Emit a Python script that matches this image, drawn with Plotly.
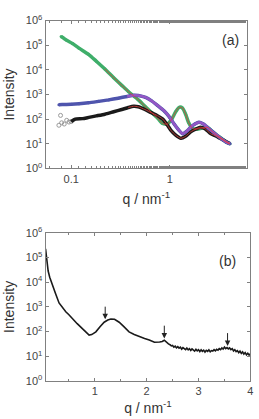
import plotly.graph_objects as go

# ---------- panel (a): log q vs log I ----------
q_green = [0.079, 0.09, 0.103, 0.12, 0.151, 0.18, 0.22, 0.27, 0.326, 0.38, 0.44, 0.5, 0.56, 0.65, 0.75,
           0.85, 0.95, 1.05, 1.15, 1.25, 1.35, 1.45, 1.56, 1.7, 1.9, 2.1, 2.4, 2.7, 3.0, 3.4, 3.8, 4.1]
logI_green = [5.35, 5.2, 5.07, 4.88, 4.62, 4.35, 4.03, 3.68, 3.37, 3.12, 2.91, 2.72, 2.52, 2.28, 2.05,
              1.82, 1.8, 2.0, 2.3, 2.48, 2.45, 2.2, 1.85, 1.62, 1.6, 1.63, 1.67, 1.5, 1.35, 1.2, 1.05, 1.0]

q_black = [0.075, 0.078, 0.08, 0.085, 0.09, 0.095, 0.1, 0.11, 0.13, 0.151, 0.18, 0.22, 0.27, 0.326, 0.38,
           0.43, 0.48, 0.56, 0.65, 0.75, 0.85, 0.95, 1.03, 1.15, 1.3, 1.45, 1.63, 1.85, 2.05, 2.3, 2.6,
           3.0, 3.5, 4.1]
logI_black = [1.75, 2.15, 1.85, 1.8, 1.95, 1.88, 1.9, 2.0, 2.02, 2.07, 2.13, 2.2, 2.3, 2.39, 2.47,
              2.52, 2.5, 2.39, 2.26, 2.14, 2.0, 1.75, 1.54, 1.35, 1.22, 1.3, 1.48, 1.6, 1.67, 1.6, 1.41,
              1.3, 1.15, 1.0]

q_blue = [0.075, 0.081, 0.1, 0.12, 0.15, 0.19, 0.24, 0.3, 0.37, 0.44, 0.48, 0.57, 0.65, 0.75, 0.88,
          1.0, 1.11, 1.22, 1.35, 1.48, 1.63, 1.8, 1.98, 2.2, 2.5, 2.9, 3.3, 3.8, 4.1]
logI_blue = [2.58, 2.59, 2.6, 2.62, 2.66, 2.72, 2.78, 2.85, 2.92, 2.97, 2.96, 2.88, 2.75, 2.56, 2.33,
             2.07, 1.8, 1.58, 1.41, 1.5, 1.67, 1.8, 1.87, 1.8, 1.61, 1.4, 1.22, 1.05, 1.0]

xticks_a = [0.1, 1]
xtick_text_a = ["0.1", "1"]
yticks = [1, 10, 100, 1000, 1e4, 1e5, 1e6]
ytick_text = ["10<sup>0</sup>", "10<sup>1</sup>", "10<sup>2</sup>", "10<sup>3</sup>",
              "10<sup>4</sup>", "10<sup>5</sup>", "10<sup>6</sup>"]

# ---------- panel (b): linear q vs log I ----------
q_b = [0.05, 0.06, 0.08, 0.1, 0.13, 0.18, 0.24, 0.31, 0.38, 0.44, 0.5, 0.57, 0.66, 0.76, 0.84, 0.89,
       0.94, 1.02, 1.1, 1.18, 1.25, 1.31, 1.38, 1.47, 1.56, 1.66, 1.76, 1.86, 1.96, 2.05, 2.15, 2.25,
       2.3, 2.34, 2.38, 2.42,
       2.450, 2.475, 2.500, 2.525, 2.550, 2.575, 2.600, 2.625, 2.650, 2.675, 2.700, 2.725, 2.750,
       2.775, 2.800, 2.825, 2.850, 2.875, 2.900, 2.925, 2.950, 2.975, 3.000, 3.025, 3.050, 3.075,
       3.100, 3.125, 3.150, 3.175, 3.200, 3.225, 3.250, 3.275, 3.300, 3.325, 3.350, 3.375, 3.400,
       3.425, 3.450, 3.475, 3.500, 3.525, 3.550, 3.575, 3.600, 3.625, 3.650, 3.675, 3.700, 3.725,
       3.750, 3.775, 3.800, 3.825, 3.850, 3.875, 3.900, 3.925, 3.950, 3.975, 4.000]
logI_b = [5.35, 5.1, 4.72, 4.45, 4.2, 3.94, 3.55, 3.16, 2.95, 2.8, 2.68, 2.51, 2.32, 2.12, 1.94, 1.86,
          1.88, 1.99, 2.2, 2.38, 2.47, 2.51, 2.5, 2.38, 2.2, 1.99, 1.88, 1.79, 1.72, 1.66, 1.57, 1.58,
          1.6, 1.65, 1.56, 1.5,
          1.47, 1.42, 1.44, 1.37, 1.41, 1.34, 1.39, 1.33, 1.37, 1.29, 1.35, 1.30, 1.27,
          1.33, 1.26, 1.31, 1.24, 1.30, 1.25, 1.21, 1.28, 1.22, 1.27, 1.19, 1.26, 1.20,
          1.25, 1.17, 1.24, 1.20, 1.26, 1.18, 1.23, 1.21, 1.27, 1.22, 1.28, 1.25, 1.31,
          1.27, 1.34, 1.29, 1.37, 1.31, 1.35, 1.30, 1.34, 1.27, 1.31, 1.22, 1.27, 1.19,
          1.23, 1.15, 1.21, 1.12, 1.18, 1.09, 1.15, 1.06, 1.12, 1.05, 1.10]
xticks_b = [1, 2, 3, 4]
xtick_text_b = ["1", "2", "3", "4"]

# arrows in (b): peak position, arrow tail log I, arrow head log I
peak_q = [1.2, 2.34, 3.56]
arrow_tail_logI = [3.07, 2.3, 2.0]
arrow_head_logI = [2.5, 1.72, 1.42]

GREEN = "#3fae6a"
BLACK = "#1a1a1a"
BLUE = "#4f55ad"
PURPLE = "#9457c4"
RED = "#e0403a"
FRAME = "#808080"
TXT = "#333333"
FONT = "Arial, Liberation Sans"

fig = go.Figure()


def pw(vals):
    return [10 ** v for v in vals]


# panel (a) traces
fig.add_trace(go.Scatter(x=q_green, y=pw(logI_green), mode="lines+markers",
                         line=dict(color=GREEN, width=3.5, shape="spline", smoothing=0.6),
                         marker=dict(size=3, color=GREEN), xaxis="x", yaxis="y"))
n_gray = 7
fig.add_trace(go.Scatter(x=q_black[:n_gray], y=pw(logI_black[:n_gray]), mode="markers",
                         marker=dict(size=4, color="#9a9a9a", symbol="circle-open",
                                     line=dict(width=1)),
                         xaxis="x", yaxis="y"))
fig.add_trace(go.Scatter(x=q_black[n_gray - 1:], y=pw(logI_black[n_gray - 1:]), mode="lines",
                         line=dict(color=BLACK, width=3.5, shape="spline", smoothing=0.6),
                         xaxis="x", yaxis="y"))
fig.add_trace(go.Scatter(x=q_blue, y=pw(logI_blue), mode="lines+markers",
                         line=dict(color=BLUE, width=3.5, shape="spline", smoothing=0.6),
                         marker=dict(size=3, color=BLUE), xaxis="x", yaxis="y"))
# fit overlays
qp = [q for q in q_blue if q >= 0.37]
lp = [l for q, l in zip(q_blue, logI_blue) if q >= 0.37]
fig.add_trace(go.Scatter(x=qp, y=pw(lp), mode="lines",
                         line=dict(color=PURPLE, width=2.5, shape="spline", smoothing=0.6),
                         xaxis="x", yaxis="y"))
qg = [q for q in q_green if q >= 0.22]
lg = [l for q, l in zip(q_green, logI_green) if q >= 0.22]
fig.add_trace(go.Scatter(x=qg, y=pw(lg), mode="lines",
                         line=dict(color=RED, width=1, shape="spline", smoothing=0.6),
                         opacity=0.8, xaxis="x", yaxis="y"))
qk = [q for q in q_black if q >= 0.38]
lk = [l for q, l in zip(q_black, logI_black) if q >= 0.38]
fig.add_trace(go.Scatter(x=qk, y=pw(lk), mode="lines",
                         line=dict(color=RED, width=1, shape="spline", smoothing=0.6),
                         opacity=0.8, xaxis="x", yaxis="y"))

# panel (b)
fig.add_trace(go.Scatter(x=q_b, y=pw(logI_b), mode="lines",
                         line=dict(color=BLACK, width=1.6),
                         xaxis="x2", yaxis="y2"))

for q, t, h in zip(peak_q, arrow_tail_logI, arrow_head_logI):
    fig.add_annotation(x=q, y=h, ax=q, ay=t, xref="x2", yref="y2", axref="x2", ayref="y2",
                       showarrow=True, arrowhead=2, arrowsize=1.1, arrowwidth=1, arrowcolor="#222",
                       text="")

fig.add_annotation(x=0.9, y=0.921, xref="paper", yref="paper", text="(a)", showarrow=False,
                   xanchor="center", yanchor="middle",
                   font=dict(size=14, color=TXT, family=FONT))
fig.add_annotation(x=0.888, y=0.3754, xref="paper", yref="paper", text="(b)", showarrow=False,
                   xanchor="center", yanchor="middle",
                   font=dict(size=14, color=TXT, family=FONT))

axis_common = dict(showline=True, linecolor=FRAME, linewidth=1, mirror="ticks", ticks="inside",
                   tickcolor=FRAME, ticklen=3, showgrid=False, zeroline=False,
                   tickfont=dict(size=11, color="#444", family=FONT))
title_font = dict(size=14, color=TXT, family=FONT)

fig.update_layout(
    width=259, height=419, margin=dict(l=0, r=0, t=0, b=0),
    paper_bgcolor="white", plot_bgcolor="white", showlegend=False,
    font=dict(family=FONT, color=TXT),
    xaxis=dict(type="log", range=[-1.26, 0.785], domain=[0.178, 0.965], anchor="y",
               tickvals=xticks_a, ticktext=xtick_text_a,
               minor=dict(ticks="inside", ticklen=2, tickcolor=FRAME),
               title=dict(text="q / nm<sup>-1</sup>", font=title_font, standoff=10),
               **axis_common),
    yaxis=dict(type="log", range=[0, 6], domain=[0.604, 0.969], anchor="x",
               tickvals=yticks, ticktext=ytick_text,
               title=dict(text="Intensity", font=title_font, standoff=7),
               **axis_common),
    xaxis2=dict(range=[0.05, 4], domain=[0.178, 0.978], anchor="y2",
                tickvals=xticks_b, ticktext=xtick_text_b,
                minor=dict(ticks="inside", ticklen=2, tickcolor=FRAME, dtick=0.5),
                title=dict(text="q / nm<sup>-1</sup>", font=title_font, standoff=6),
                **axis_common),
    yaxis2=dict(type="log", range=[0, 6], domain=[0.079, 0.445], anchor="x2",
                tickvals=yticks, ticktext=ytick_text,
                title=dict(text="Intensity", font=title_font, standoff=7),
                **axis_common),
)

fig.write_html("out.html")
